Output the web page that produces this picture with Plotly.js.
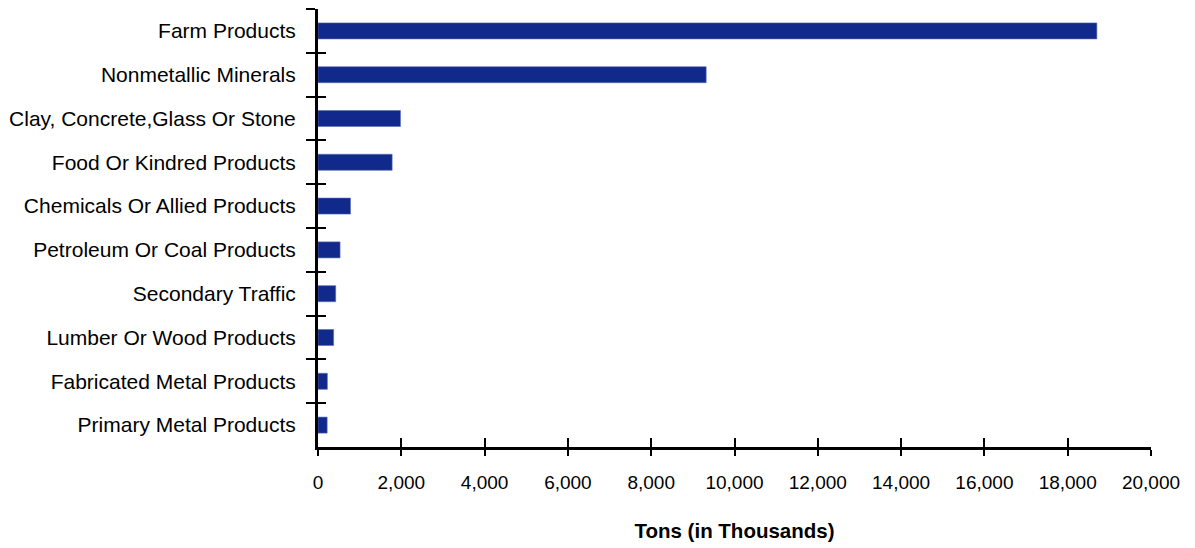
<!DOCTYPE html>
<html>
<head>
<meta charset="utf-8">
<script src="https://cdn.plot.ly/plotly-3.0.1.min.js"></script>
<style>html,body{margin:0;padding:0;background:#fff;}#chart{width:1195px;height:548px;}</style>
</head>
<body>
<div id="chart"></div>
<script>
const categories = [
  "Farm Products",
  "Nonmetallic Minerals",
  "Clay, Concrete,Glass Or Stone",
  "Food Or Kindred Products",
  "Chemicals Or Allied Products",
  "Petroleum Or Coal Products",
  "Secondary Traffic",
  "Lumber Or Wood Products",
  "Fabricated Metal Products",
  "Primary Metal Products"
];
const tons = [18700, 9320, 1980, 1780, 780, 530, 425, 375, 225, 220];
const xTickVals = [0, 2000, 4000, 6000, 8000, 10000, 12000, 14000, 16000, 18000, 20000];
const xTitle = "Tons (in Thousands)";

const FONT = "'Liberation Sans', Arial, sans-serif";

const trace = {
  type: "bar",
  orientation: "h",
  x: tons,
  y: categories,
  marker: { color: "#10298a", line: { color: "#5b6db5", width: 0.6 } },
  hoverinfo: "x+y"
};

// empty helper trace so the overlay axes (inner half of the crossing ticks) are drawn
const tickHelper = {
  type: "scatter",
  mode: "markers",
  x: [],
  y: [],
  xaxis: "x2",
  yaxis: "y2",
  hoverinfo: "skip",
  showlegend: false
};

const layout = {
  width: 1195,
  height: 548,
  margin: { l: 318, r: 44, t: 9, b: 101, pad: 0 },
  paper_bgcolor: "#ffffff",
  plot_bgcolor: "rgba(0,0,0,0)",
  showlegend: false,
  bargap: 0.634,
  font: { family: FONT, color: "#000000" },
  xaxis: {
    range: [0, 20000],
    tickvals: xTickVals,
    tickformat: ",d",
    ticks: "outside",
    ticklen: 6,
    tickwidth: 2,
    tickcolor: "#000",
    showline: true,
    linewidth: 3,
    linecolor: "#000",
    showgrid: false,
    zeroline: false,
    tickfont: { size: 19, family: FONT, color: "#000" },
    ticklabelstandoff: 10,
    title: { text: xTitle, font: { size: 20.5, family: FONT, color: "#000", weight: "bold" }, standoff: 32 },
    fixedrange: true
  },
  yaxis: {
    type: "category",
    autorange: "reversed",
    tickson: "boundaries",
    ticks: "outside",
    ticklen: 9,
    tickwidth: 2,
    tickcolor: "#000",
    showline: true,
    linewidth: 3,
    linecolor: "#000",
    showgrid: false,
    zeroline: false,
    tickfont: { size: 21, family: FONT, color: "#000" },
    ticklabelstandoff: 15,
    fixedrange: true
  },
  xaxis2: {
    overlaying: "x",
    anchor: "y2",
    side: "bottom",
    range: [0, 20000],
    tickvals: xTickVals,
    ticks: "inside",
    ticklen: 9,
    tickwidth: 2,
    tickcolor: "#000",
    showticklabels: false,
    showline: false,
    showgrid: false,
    zeroline: false,
    fixedrange: true
  },
  yaxis2: {
    overlaying: "y",
    anchor: "x2",
    side: "left",
    range: [9.5, -0.5],
    tick0: -0.5,
    dtick: 1,
    ticks: "inside",
    ticklen: 8,
    tickwidth: 2,
    tickcolor: "#000",
    showticklabels: false,
    showline: false,
    showgrid: false,
    zeroline: false,
    fixedrange: true
  }
};

Plotly.newPlot("chart", [trace, tickHelper], layout, { displayModeBar: false, staticPlot: true });
</script>
</body>
</html>
